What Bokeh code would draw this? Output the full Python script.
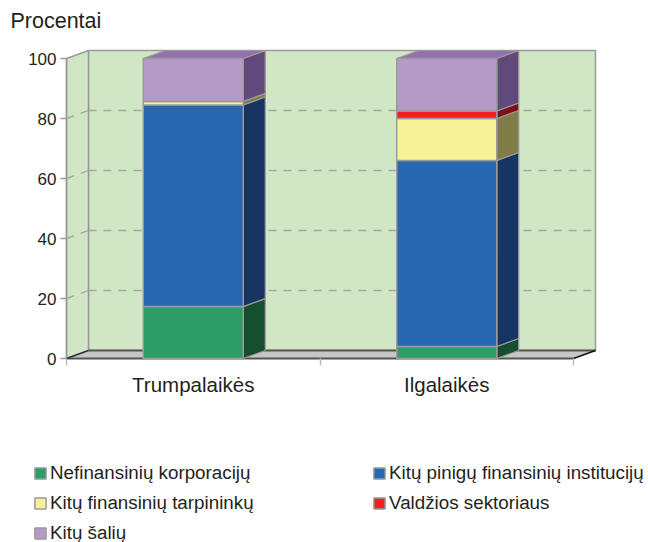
from bokeh.plotting import figure
from bokeh.embed import file_html
from bokeh.resources import INLINE
from bokeh.models import FixedTicker, Legend, LegendItem, Range1d, ColumnDataSource, Label, LinearAxis

categories = ["Trumpalaikės", "Ilgalaikės"]
series_names = ["Nefinansinių korporacijų", "Kitų pinigų finansinių institucijų",
                "Kitų finansinių tarpininkų", "Valdžios sektoriaus", "Kitų šalių"]
nefinansiniu = [17.3, 4.0]
kitu_piniginiu = [67.2, 62.0]
tarpininku = [1.2, 14.0]
valdzios = [0.0, 2.5]
kitu_saliu = [14.3, 17.5]
y_ticks = [0, 20, 40, 60, 80, 100]

series = [nefinansiniu, kitu_piniginiu, tarpininku, valdzios, kitu_saliu]
front_colors = ["#2E9C66", "#2867B2", "#F7F29A", "#EE2024", "#B599C7"]
side_colors = ["#154F2F", "#163563", "#807C47", "#7F1015", "#62497B"]
top_color = "#9470AC"
WALL = "#D0E6C5"
FLOOR = "#C6C6C6"
EDGE = "#9A9A9A"
TEXT = "#231F20"
FONT = "Liberation Sans"

W, H = 648, 542
X0_PX, Y0_PX = 66, 358     # where the origin of the front plane lies on the canvas
PX_PER_X, PX_PER_Y = 253.5, 3.0

XMAX = len(categories)
DX = 22 / PX_PER_X
DY = 8 / PX_PER_Y
BAR_W = 100 / PX_PER_X

p = figure(width=W, height=H, output_backend="svg", toolbar_location=None,
           x_range=Range1d(-X0_PX / PX_PER_X, (W - X0_PX) / PX_PER_X),
           y_range=Range1d(-(H - Y0_PX) / PX_PER_Y, Y0_PX / PX_PER_Y),
           x_axis_type=None, y_axis_type=None, min_border=0,
           outline_line_color=None, background_fill_color="white", border_fill_color="white")
p.grid.visible = False

p.add_layout(Label(x=10, y=H - 32, x_units="screen", y_units="screen", text="Procentai",
                   text_font=FONT, text_font_size="21.5px", text_color=TEXT))

# walls and floor
p.patch([DX, XMAX + DX, XMAX + DX, DX], [DY, DY, 100 + DY, 100 + DY],
        fill_color=WALL, line_color=EDGE, line_width=1.5)
p.patch([0, DX, DX, 0], [0, DY, 100 + DY, 100],
        fill_color=WALL, line_color=EDGE, line_width=1.5)
p.patch([0, XMAX, XMAX + DX, DX], [0, 0, DY, DY], fill_color=FLOOR, line_color=None)

# gridlines
grid = [t for t in y_ticks if 0 < t < 100]
p.segment([DX] * len(grid), [t + DY for t in grid], [XMAX + DX] * len(grid), [t + DY for t in grid],
          line_color="#A8A8A8", line_width=1.4, line_dash="8 7")
p.segment([0] * len(grid), grid, [DX] * len(grid), [t + DY for t in grid],
          line_color="#A8A8A8", line_width=1.4, line_dash="8 7")

# floor edges
p.line([DX, XMAX + DX], [DY, DY], line_color="#555555", line_width=2)
p.line([0, XMAX], [0, 0], line_color="#555555", line_width=2)
p.line([0, DX], [0, DY], line_color="#333333", line_width=1.5)
p.line([XMAX, XMAX + DX], [0, DY], line_color="#111111", line_width=1.5)

# bars
centers = [i + 0.5 for i in range(len(categories))]
for i in range(len(categories)):
    bottom = 0.0
    cx = centers[i]
    r = cx + BAR_W / 2
    l = cx - BAR_W / 2
    for s, vals in enumerate(series):
        v = vals[i]
        if v <= 0:
            continue
        p.patch([r, r + DX, r + DX, r], [bottom, bottom + DY, bottom + v + DY, bottom + v],
                fill_color=side_colors[s], line_color=EDGE, line_width=1.2)
        bottom += v
    p.patch([l, l + DX, r + DX, r], [bottom, bottom + DY, bottom + DY, bottom],
            fill_color=top_color, line_color=EDGE, line_width=1.2)

renderers = []
for s, vals in enumerate(series):
    xs, bots, tops = [], [], []
    for i in range(len(categories)):
        if vals[i] > 0:
            b = sum(series[k][i] for k in range(s))
            xs.append(centers[i])
            bots.append(b)
            tops.append(b + vals[i])
    src = ColumnDataSource(dict(x=xs, bottom=bots, top=tops))
    renderers.append(p.vbar(x="x", width=BAR_W, bottom="bottom", top="top", source=src,
                            fill_color=front_colors[s], line_color=EDGE, line_width=1.5))

# axes drawn inside the full-canvas frame
ya = LinearAxis(fixed_location=0, ticker=FixedTicker(ticks=y_ticks), bounds=(0, 100),
                axis_line_color=EDGE, axis_line_width=1.5,
                major_tick_line_color=EDGE, major_tick_line_width=1.5,
                major_tick_out=6, major_tick_in=0, minor_tick_line_color=None,
                major_label_text_font=FONT, major_label_text_font_size="17px",
                major_label_text_color=TEXT, major_label_standoff=4)
p.add_layout(ya, "left")

xa = LinearAxis(fixed_location=0,
                ticker=FixedTicker(ticks=centers, minor_ticks=list(range(XMAX + 1))),
                major_label_overrides={c: n for c, n in zip(centers, categories)},
                axis_line_color=None, major_tick_line_color=None,
                minor_tick_line_color="#BBBBBB", minor_tick_line_width=1.5,
                minor_tick_out=7, minor_tick_in=0,
                major_label_text_font=FONT, major_label_text_font_size="20.5px",
                major_label_text_color=TEXT, major_label_standoff=7)
p.add_layout(xa, "below")

def make_legend(idx, loc):
    leg = Legend(items=[LegendItem(label=series_names[i], renderers=[renderers[i]]) for i in idx],
                 location=loc, orientation="vertical", glyph_width=14, glyph_height=14,
                 label_height=15, label_standoff=3, spacing=8, padding=0, margin=0,
                 border_line_color=None, background_fill_alpha=0,
                 label_text_font=FONT, label_text_font_size="18.8px", label_text_color=TEXT)
    p.add_layout(leg, "center")

make_legend([0, 2, 4], (33, -2))
make_legend([1, 3], (372, 28))

open("out.html", "w").write(file_html(p, INLINE))
